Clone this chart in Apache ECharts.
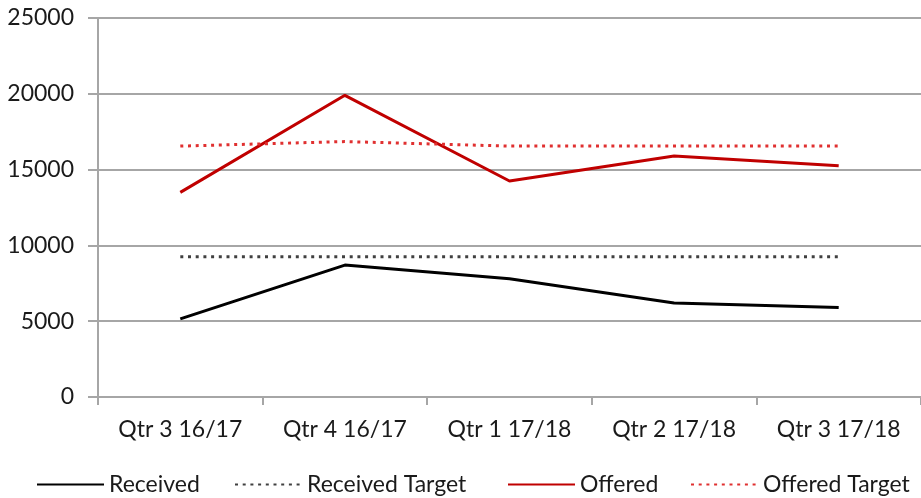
<!DOCTYPE html>
<html>
<head>
<meta charset="utf-8">
<script src="https://cdn.jsdelivr.net/npm/echarts@6/dist/echarts.min.js"></script>
<style>
  html, body { margin: 0; padding: 0; background: #fff; }
  #chart { width: 921px; height: 498px; }
</style>
</head>
<body>
<div id="chart"></div>
<script>
const quarters = ['Qtr 3 16/17', 'Qtr 4 16/17', 'Qtr 1 17/18', 'Qtr 2 17/18', 'Qtr 3 17/18']
const received = [5150, 8700, 7800, 6200, 5900]
const receivedTarget = [9250, 9250, 9250, 9250, 9250]
const offered = [13500, 19900, 14250, 15900, 15250]
const offeredTarget = [16550, 16850, 16550, 16550, 16550]

const FONT = 'Lato'
const TEXT = '#1a1a1a'
const GRID = '#a6a6a6'
const RED = '#c00000'

const chart = echarts.init(document.getElementById('chart'), null, { renderer: 'canvas' })

function legendAt(name, left) {
    return {
        data: [name],
        left: left,
        top: 473,
        itemWidth: 67,
        itemHeight: 14,
        itemGap: 6,
        padding: 0,
        itemStyle: { opacity: 0, borderWidth: 0 },
        textStyle: { fontFamily: FONT, fontSize: 23, color: TEXT }
    }
}

function lineSeries(name, data, color, dotted) {
    return {
        name: name,
        type: 'line',
        data: data,
        symbol: 'none',
        showSymbol: false,
        animation: false,
        lineStyle: {
            color: color,
            width: 3,
            type: dotted ? [3, 4.7] : 'solid',
            cap: 'butt'
        },
        itemStyle: { color: color }
    }
}

chart.setOption({
    backgroundColor: '#fff',
    animation: false,
    legend: [
        legendAt('Received', 36),
        legendAt('Received Target', 234),
        legendAt('Offered', 507),
        legendAt('Offered Target', 690)
    ],
    grid: { left: 98, right: -2, top: 18, bottom: 101 },
    xAxis: {
        type: 'category',
        data: quarters,
        boundaryGap: true,
        axisLine: { lineStyle: { color: GRID, width: 2 } },
        axisTick: { show: true, length: 8, lineStyle: { color: GRID, width: 2 } },
        axisLabel: { color: TEXT, fontFamily: FONT, fontSize: 23, margin: 21 }
    },
    yAxis: {
        type: 'value',
        min: 0,
        max: 25000,
        interval: 5000,
        axisLine: { show: true, lineStyle: { color: GRID, width: 2 } },
        axisTick: { show: true, length: 10, lineStyle: { color: GRID, width: 2 } },
        axisLabel: {
            color: TEXT, fontFamily: FONT, fontSize: 23, margin: 24,
            formatter: v => String(v)
        },
        splitLine: { lineStyle: { color: GRID, width: 2 } }
    },
    series: [
        lineSeries('Received', received, '#000000', false),
        lineSeries('Received Target', receivedTarget, '#404040', true),
        lineSeries('Offered', offered, RED, false),
        lineSeries('Offered Target', offeredTarget, '#e03030', true)
    ]
})
</script>
</body>
</html>
